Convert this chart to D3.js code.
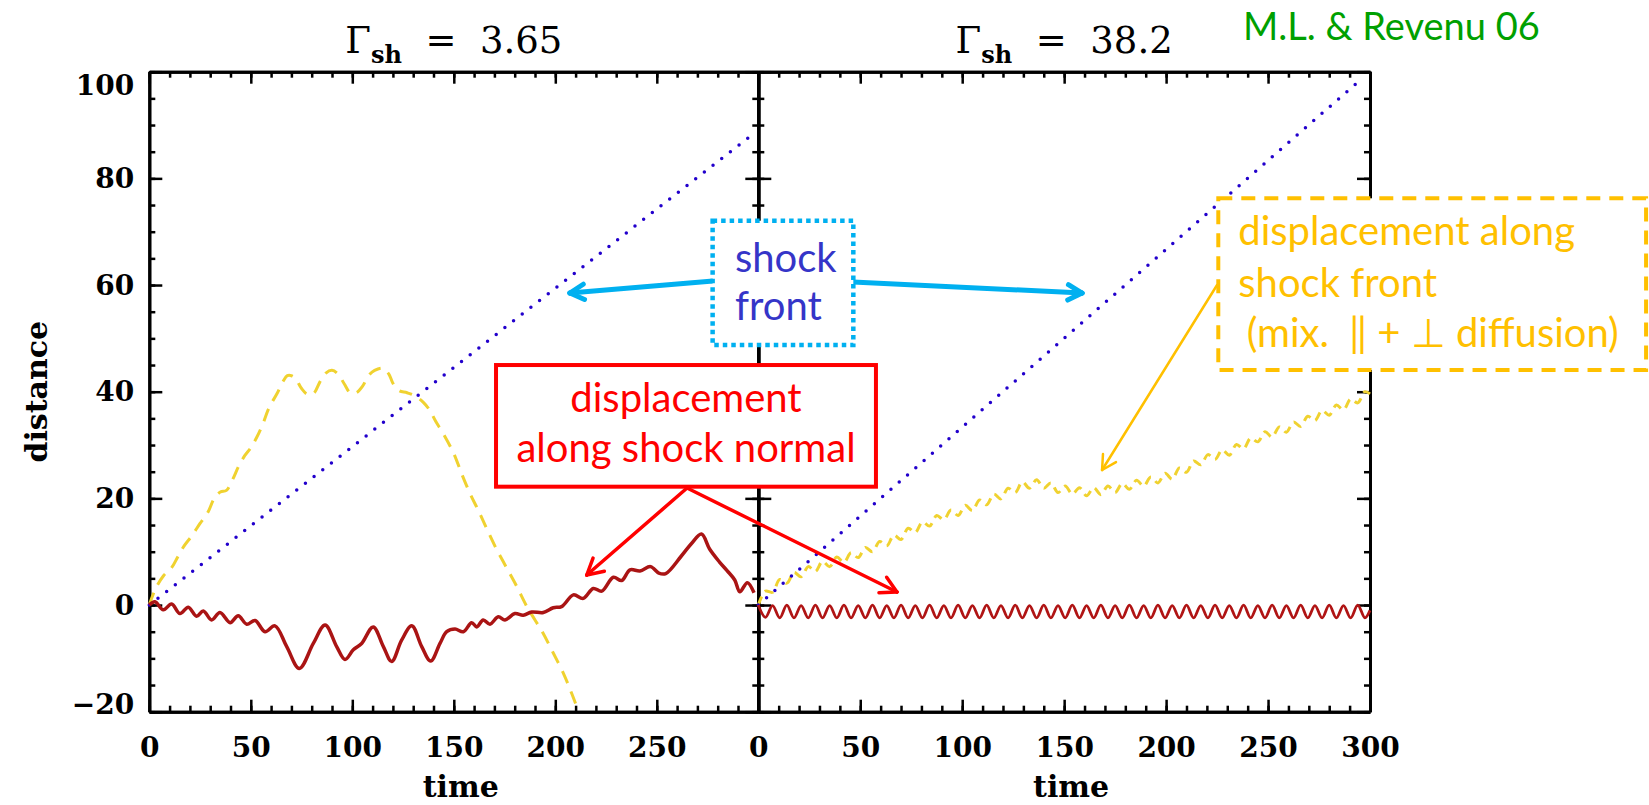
<!DOCTYPE html>
<html>
<head>
<meta charset="utf-8">
<script src="https://cdn.jsdelivr.net/npm/d3@7"></script>
<style>
body { margin: 0; background: #fff; }
svg { display: block; }
.axis text { font-family: "DejaVu Serif", serif; font-weight: bold; font-size: 28px; fill: #000; }
.axis path { stroke: #000; stroke-width: 3; }
.axis line { stroke: #000; stroke-width: 2.5; }
.note { font-family: Lato, "Open Sans", sans-serif; }
</style>
</head>
<body>
<svg id="chart" width="1649" height="805"></svg>
<script>
// tick values
const timeTicksLeft = [0, 50, 100, 150, 200, 250];
const timeTicksRight = [0, 50, 100, 150, 200, 250, 300];
const distTicks = [-20, 0, 20, 40, 60, 80, 100];
const titles = ["3.65", "38.2"];

// shock front position (dotted)
const frontLeft = [[0, 0], [295, 87.6]];
const frontRight = [[0, 0], [296, 98.7]];

// displacement along shock front (dashed yellow), Gamma = 3.65
const alongFrontLeft = [
  [0, 0], [3, 3], [7, 5.5], [11, 7], [14, 9], [17, 11], [21, 13], [25, 15.3], [29, 17.5],
  [32, 20], [35, 21.2], [38, 21.5], [41, 23.5], [44, 26], [47, 28], [50, 29.5], [53, 31.5],
  [56, 34], [59, 37], [63, 39.7], [66, 42], [68, 43], [70, 43], [72, 42.5], [75, 40.6],
  [78, 39.5], [81, 39.7], [84, 41.8], [87, 43.5], [90, 44], [93, 43.3], [96, 41.5], [99, 39.8],
  [102, 39.8], [105, 41], [108, 43], [111, 44], [115, 44.4], [118, 43.3], [120, 41.6],
  [123, 40.2], [127, 39.8], [131, 39.2], [135, 38], [138, 36.6], [141, 34.5], [145, 32],
  [150, 28.4], [154, 24.5], [158, 20.9], [162, 17.8], [166, 14.5], [171, 10.5], [176, 7],
  [181, 3.5], [186, -0.3], [190, -2.8], [194, -5.3], [199, -9], [204, -12.8], [208, -16.5],
  [211, -19.5]
];

// displacement along shock normal (solid dark red), Gamma = 3.65
const alongNormalLeft = [
  [0, 0], [2.8, 0.6], [6.9, -0.9], [11, 0.2], [15.1, -1.6], [19.2, -0.4], [23.3, -2.1],
  [26.6, -1.1], [30.7, -2.8], [34.8, -1.4], [39.8, -3.3], [43.8, -2], [48, -3.6], [52.1, -2.9],
  [57, -5], [61.9, -3.9], [67.7, -7.8], [73.9, -11.9], [80.8, -7.2], [86.6, -3.75],
  [92.3, -7.8], [96.4, -10.2], [100.5, -8.4], [104.6, -7.2], [110.3, -4.1], [115.3, -7.8],
  [119.4, -10.6], [124.3, -6.6], [129.3, -3.9], [134.2, -7.8], [138.6, -10.5], [143.2, -7.2],
  [146.5, -5], [150.6, -4.5], [154.7, -5], [158.8, -3.3], [161.3, -4.1], [164.5, -2.8],
  [167.8, -3.6], [171.9, -2.2], [175.2, -2.8], [180.1, -1.6], [184.2, -1.9], [188.4, -1.3],
  [194.1, -1.4], [199, -0.5], [203.1, -0.3], [208.9, 1.9], [213.8, 1.25], [218.7, 3.1],
  [222.9, 2.6], [228.6, 5.2], [232.7, 4.6], [236.8, 6.6], [241.7, 6.4], [246.9, 7.2],
  [251, 6], [254.4, 5.9], [261.9, 9.1], [267, 11.5], [272, 13.3], [276, 10.5], [280.8, 8.1],
  [284.5, 6.5], [288.4, 4.7], [290.9, 2.5], [294.6, 4.2], [297.9, 2.3]
];

// Gamma = 38.2, along shock front (small gyration wiggles on a slow drift)
const alongFrontRight = [
  [0, 0], [3.5, 2.6], [7, 2.4], [10.5, 4.8], [14, 4.1], [17.5, 6.1], [21, 5.3], [24.5, 7.2],
  [28, 6.3], [31.5, 8.2], [35, 7.2], [38.5, 9.0], [42, 8.0], [45.5, 9.8], [49, 8.9], [52.5, 10.8],
  [56, 10.0], [59.5, 11.9], [63, 11.1], [66.5, 13.1], [70, 12.3], [73.5, 14.4], [77, 13.6],
  [80.5, 15.6], [84, 14.8], [87.5, 16.8], [91, 16.0], [94.5, 17.8], [98, 16.8], [101.5, 18.7],
  [105, 17.7], [108.5, 19.7], [112, 18.8], [115.5, 20.8], [119, 19.9], [122.5, 21.9], [126, 21.1],
  [129.5, 23.1], [133, 21.9], [136.5, 23.5], [140, 21.9], [143.5, 22.9], [147, 21.1], [150.5, 22.3],
  [154, 20.8], [157.5, 22.0], [161, 20.5], [164.5, 22.0], [168, 20.7], [171.5, 22.3], [175, 21.1],
  [178.5, 22.8], [182, 21.7], [185.5, 23.4], [189, 22.3], [192.5, 24.0], [196, 22.9], [199.5, 24.7],
  [203, 23.6], [206.5, 25.7], [210, 24.9], [213.5, 27.0], [217, 26.3], [220.5, 28.2], [224, 27.3],
  [227.5, 29.1], [231, 28.1], [234.5, 30.1], [238, 29.3], [241.5, 31.3], [245, 30.6], [248.5, 32.5],
  [252, 31.5], [255.5, 33.4], [259, 32.4], [262.5, 34.3], [266, 33.5], [269.5, 35.4], [273, 34.6],
  [276.5, 36.5], [280, 35.6], [283.5, 37.5], [287, 36.6], [290.5, 38.6], [294, 37.9], [297.5, 40.0],
  [300, 39.6]
];

// Gamma = 38.2, along shock normal
const alongNormalRight = [
  [0, 0], [3.5, -2.3], [7, -0.1], [10.5, -2.4], [14, 0], [17.5, -2.4], [21, -0.1], [24.5, -2.4],
  [28, 0], [31.5, -2.4], [35, -0.1], [38.5, -2.4], [42, 0], [45.5, -2.4], [49, -0.1], [52.5, -2.4],
  [56, 0], [59.5, -2.4], [63, -0.1], [66.5, -2.4], [70, 0], [73.5, -2.4], [77, -0.1], [80.5, -2.4],
  [84, 0], [87.5, -2.4], [91, -0.1], [94.5, -2.4], [98, 0], [101.5, -2.4], [105, -0.1], [108.5, -2.4],
  [112, 0], [115.5, -2.4], [119, -0.1], [122.5, -2.4], [126, 0], [129.5, -2.4], [133, -0.1],
  [136.5, -2.4], [140, 0], [143.5, -2.4], [147, -0.1], [150.5, -2.4], [154, 0], [157.5, -2.4],
  [161, -0.1], [164.5, -2.4], [168, 0], [171.5, -2.4], [175, -0.1], [178.5, -2.4], [182, 0],
  [185.5, -2.4], [189, -0.1], [192.5, -2.4], [196, 0], [199.5, -2.4], [203, -0.1], [206.5, -2.4],
  [210, 0], [213.5, -2.4], [217, -0.1], [220.5, -2.4], [224, 0], [227.5, -2.4], [231, -0.1],
  [234.5, -2.4], [238, 0], [241.5, -2.4], [245, -0.1], [248.5, -2.4], [252, 0], [255.5, -2.4],
  [259, -0.1], [262.5, -2.4], [266, 0], [269.5, -2.4], [273, -0.1], [276.5, -2.4], [280, 0],
  [283.5, -2.4], [287, -0.1], [290.5, -2.4], [294, 0], [297.5, -2.4], [300, -1]
];

const svg = d3.select("#chart");

const y = d3.scaleLinear().domain([-20, 100]).range([711.7, 71.7]);
const xL = d3.scaleLinear().domain([0, 300]).range([149.3, 758.3]);
const xR = d3.scaleLinear().domain([0, 300]).range([758.3, 1370]);

const minorTime = d3.range(0, 301, 10);
const minorDist = d3.range(-20, 101, 5);

function addAxis(axis, tx, ty) {
    return svg.append("g")
        .attr("class", "axis")
        .attr("transform", `translate(${tx},${ty})`)
        .call(axis.tickSizeOuter(0));
}

function drawFrame(x, xTicks, yLabels) {
    const [x0, x1] = x.range();
    const [yb, yt] = y.range();

    // bottom
    addAxis(d3.axisBottom(x).tickValues(minorTime).tickSizeInner(-6).tickFormat(""), 0, yb);
    addAxis(d3.axisBottom(x).tickValues(xTicks).tickSizeInner(-12).tickPadding(25).tickFormat(d3.format("d")), 0, yb);
    // top
    addAxis(d3.axisTop(x).tickValues(minorTime).tickSizeInner(-6).tickFormat(""), 0, yt);
    addAxis(d3.axisTop(x).tickValues(timeTicksRight).tickSizeInner(-12).tickFormat(""), 0, yt);
    // left
    addAxis(d3.axisLeft(y).tickValues(minorDist).tickSizeInner(-6).tickFormat(""), x0, 0);
    const left = addAxis(d3.axisLeft(y).tickValues(distTicks).tickSizeInner(-13).tickPadding(15)
        .tickFormat(yLabels ? d3.format("d") : ""), x0, 0);
    // right
    addAxis(d3.axisRight(y).tickValues(minorDist).tickSizeInner(-6).tickFormat(""), x1, 0);
    addAxis(d3.axisRight(y).tickValues(distTicks).tickSizeInner(-13).tickFormat(""), x1, 0);

    // IDL keeps the end labels inside the axis range
    left.selectAll(".tick text")
        .attr("dy", d => d === 100 ? "0.8em" : d === -20 ? "0.05em" : "0.32em");

    svg.append("text")
        .attr("x", (x0 + x1) / 2 + 7)
        .attr("y", 797)
        .attr("text-anchor", "middle")
        .style("font-family", "DejaVu Serif, serif")
        .style("font-weight", "bold")
        .style("font-size", "30px")
        .text("time");
}

drawFrame(xL, timeTicksLeft, true);
drawFrame(xR, timeTicksRight, false);

svg.append("text")
    .attr("transform", `translate(47,${(y(100) + y(-20)) / 2}) rotate(-90)`)
    .attr("text-anchor", "middle")
    .style("font-family", "DejaVu Serif, serif")
    .style("font-weight", "bold")
    .style("font-size", "30px")
    .text("distance");

[xL, xR].forEach((x, i) => {
    const t = svg.append("text")
        .attr("x", x(150))
        .attr("y", 53)
        .attr("text-anchor", "middle")
        .style("font-family", "DejaVu Serif, serif")
        .style("font-size", "37px");
    t.append("tspan").text("Γ");
    t.append("tspan").attr("dy", 10).style("font-size", "24px").style("font-weight", "bold").text("sh");
    t.append("tspan").attr("dy", -10).style("white-space", "pre").text("  =  " + titles[i]);
});

// curves
function drawSeries(data, x, color, width, dash, curve) {
    const line = d3.line()
        .x(d => x(d[0]))
        .y(d => y(d[1]))
        .curve(curve);
    svg.append("path")
        .datum(data)
        .attr("d", line)
        .attr("fill", "none")
        .attr("stroke", color)
        .attr("stroke-width", width)
        .attr("stroke-dasharray", dash)
        .attr("stroke-linecap", dash === "0,11" ? "round" : "butt")
        .attr("stroke-linejoin", "round");
}

drawSeries(alongFrontLeft, xL, "#f0d230", 3, "13,9", d3.curveCatmullRom);
drawSeries(frontLeft, xL, "#2200cc", 3.5, "0,11", d3.curveLinear);
drawSeries(alongNormalLeft, xL, "#aa1414", 3.5, null, d3.curveCatmullRom);

drawSeries(alongFrontRight, xR, "#f0d230", 3, "9,6", d3.curveCatmullRom);
drawSeries(frontRight, xR, "#2200cc", 3.5, "0,11", d3.curveLinear);
drawSeries(alongNormalRight, xR, "#b01414", 2.8, null, d3.curveCatmullRom);

// annotations
function arrow(x1, y1, x2, y2, color, width, head) {
    const a = Math.atan2(y2 - y1, x2 - x1);
    const g = svg.append("g")
        .attr("stroke", color)
        .attr("stroke-width", width)
        .attr("stroke-linecap", "round")
        .attr("fill", "none");
    g.append("line").attr("x1", x1).attr("y1", y1).attr("x2", x2).attr("y2", y2);
    [-0.5, 0.5].forEach(o => {
        g.append("line")
            .attr("x1", x2).attr("y1", y2)
            .attr("x2", x2 - head * Math.cos(a + o))
            .attr("y2", y2 - head * Math.sin(a + o));
    });
}

function box(xa, xb, ya, yb, color, width, dash) {
    svg.append("rect")
        .attr("x", xa).attr("y", ya)
        .attr("width", xb - xa).attr("height", yb - ya)
        .attr("fill", "#fff")
        .attr("stroke", color)
        .attr("stroke-width", width)
        .attr("stroke-dasharray", dash);
}

function note(x, yy, txt, color, size, anchor) {
    return svg.append("text")
        .attr("class", "note")
        .attr("x", x).attr("y", yy)
        .attr("text-anchor", anchor || "start")
        .attr("fill", color)
        .style("font-size", size + "px")
        .style("white-space", "pre")
        .text(txt);
}

// shock front
arrow(xL(277.7), y(60.76), xL(207.2), y(58.5), "#00b0f0", 5, 16);
arrow(xR(46.4), y(60.57), xR(158.8), y(58.5), "#00b0f0", 5, 16);
box(xL(277.5), xR(46.6), y(72.06), y(48.76), "#00b0f0", 4.5, "4.5,4");
note(xL(288.5), y(62.5), "shock", "#3535c8", 40);
note(xL(288.5), y(53.44), "front", "#3535c8", 40);

// shock normal
arrow(xL(264.9), y(21.94), xL(215.5), y(5.63), "#ff0000", 3.5, 18);
arrow(xL(264.9), y(21.94), xR(68.0), y(2.44), "#ff0000", 3.5, 18);
box(xL(170.8), xR(57.7), y(45.0), y(22.19), "#ff0000", 4, null);
note(xL(264.4), y(36.25), "displacement", "#ff0000", 40, "middle");
note(xL(264.4), y(26.87), "along shock normal", "#ff0000", 40, "middle");

// along shock front
arrow(xR(225.0), y(60.0), xR(168.6), y(25.32), "#ffc000", 2.5, 16);
box(xR(225.6), xR(435.4), y(76.26), y(44.07), "#ffc000", 4, "14,9");
note(xR(235.4), y(67.5), "displacement along", "#ffc000", 40);
note(xR(235.4), y(57.81), "shock front", "#ffc000", 40);
note(xR(239.5), y(48.44), "(mix.  \u2016 + \u22A5 diffusion)", "#ffc000", 40);

note(xR(237.7), y(106.0), "M.L. & Revenu 06", "#00a000", 38);
</script>
</body>
</html>
